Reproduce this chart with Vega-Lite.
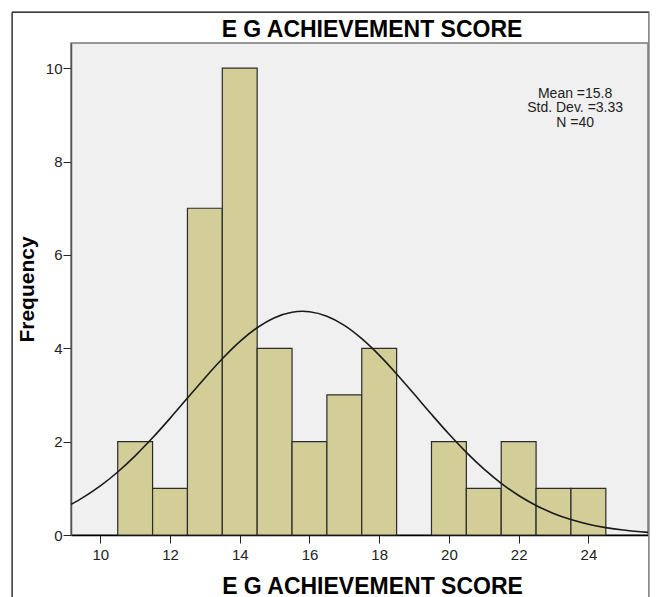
{
  "$schema": "https://vega.github.io/schema/vega-lite/v6.json",
  "width": 577,
  "height": 492,
  "autosize": {"type": "none"},
  "padding": {"left": 71, "top": 43, "right": 8, "bottom": 62},
  "background": "white",
  "config": {
    "font": "Liberation Sans",
    "view": {"fill": "#F0F0F0", "stroke": "#7a7a7a", "strokeWidth": 1.5}
  },
  "title": {
    "text": "E G ACHIEVEMENT SCORE",
    "fontSize": 23,
    "fontWeight": "bold",
    "color": "#000",
    "orient": "none",
    "anchor": "middle",
    "frame": "group",
    "baseline": "alphabetic",
    "dx": 301,
    "dy": -6
  },
  "datasets": {
    "bars": [
      {"score": 11, "freq": 2}, {"score": 12, "freq": 1}, {"score": 13, "freq": 7},
      {"score": 14, "freq": 10}, {"score": 15, "freq": 4}, {"score": 16, "freq": 2},
      {"score": 17, "freq": 3}, {"score": 18, "freq": 4}, {"score": 20, "freq": 2},
      {"score": 21, "freq": 1}, {"score": 22, "freq": 2}, {"score": 23, "freq": 1},
      {"score": 24, "freq": 1}
    ],
    "curve": [
      {"x": 9.16, "y": 0.656}, {"x": 9.5, "y": 0.8}, {"x": 10, "y": 1.051},
      {"x": 10.5, "y": 1.35}, {"x": 11, "y": 1.696}, {"x": 11.5, "y": 2.082},
      {"x": 12, "y": 2.499}, {"x": 12.5, "y": 2.933}, {"x": 13, "y": 3.365},
      {"x": 13.5, "y": 3.775}, {"x": 14, "y": 4.141}, {"x": 14.5, "y": 4.44},
      {"x": 15, "y": 4.656}, {"x": 15.5, "y": 4.773}, {"x": 15.8, "y": 4.792},
      {"x": 16, "y": 4.783}, {"x": 16.5, "y": 4.687}, {"x": 17, "y": 4.491},
      {"x": 17.5, "y": 4.206}, {"x": 18, "y": 3.853}, {"x": 18.5, "y": 3.45},
      {"x": 19, "y": 3.02}, {"x": 19.5, "y": 2.585}, {"x": 20, "y": 2.163},
      {"x": 20.5, "y": 1.77}, {"x": 21, "y": 1.416}, {"x": 21.5, "y": 1.107},
      {"x": 22, "y": 0.847}, {"x": 22.5, "y": 0.633}, {"x": 23, "y": 0.463},
      {"x": 23.5, "y": 0.331}, {"x": 24, "y": 0.231}, {"x": 24.5, "y": 0.158},
      {"x": 25, "y": 0.1055}, {"x": 25.5, "y": 0.0689}, {"x": 25.71, "y": 0.0572}
    ]
  },
  "layer": [
    {
      "data": {"name": "bars"},
      "transform": [
        {"calculate": "datum.score - 0.5", "as": "lo"},
        {"calculate": "datum.score + 0.5", "as": "hi"}
      ],
      "mark": {"type": "rect", "fill": "#D3CE97", "stroke": "#2b2b2b", "strokeWidth": 1.2},
      "encoding": {
        "x": {
          "field": "lo", "type": "quantitative",
          "scale": {"domain": [9.16, 25.71], "nice": false, "zero": false},
          "axis": {
            "values": [10, 12, 14, 16, 18, 20, 22, 24],
            "title": "E G ACHIEVEMENT SCORE",
            "titleFontSize": 23, "titleFontWeight": "bold", "titleColor": "#000",
            "titleX": 301, "titleY": 58, "titleBaseline": "alphabetic",
            "labelFontSize": 15, "labelColor": "#222", "labelPadding": 4,
            "tickSize": 8, "tickColor": "#222", "domainColor": "#000", "domainWidth": 1.5,
            "grid": false
          }
        },
        "x2": {"field": "hi"},
        "y": {
          "field": "freq", "type": "quantitative",
          "scale": {"domain": [0, 10.54], "nice": false},
          "axis": {
            "values": [0, 2, 4, 6, 8, 10],
            "title": "Frequency",
            "titleFontSize": 21, "titleFontWeight": "bold", "titleColor": "#000",
            "titlePadding": 8,
            "labelFontSize": 15, "labelColor": "#222", "labelPadding": 1,
            "tickSize": 8, "tickColor": "#222", "domainColor": "#555", "domainWidth": 1.5,
            "grid": false
          }
        },
        "y2": {"datum": 0}
      }
    },
    {
      "data": {"name": "curve"},
      "mark": {"type": "line", "color": "#1a1a1a", "strokeWidth": 1.6, "interpolate": "monotone"},
      "encoding": {
        "x": {"field": "x", "type": "quantitative"},
        "y": {"field": "y", "type": "quantitative"}
      }
    },
    {
      "data": {"values": [{}]},
      "mark": {
        "type": "text",
        "text": ["Mean =15.8", "Std. Dev. =3.33", "N =40"],
        "fontSize": 14, "lineHeight": 14.5, "align": "center", "baseline": "top", "color": "#222"
      },
      "encoding": {
        "x": {"datum": 23.62},
        "y": {"datum": 9.6}
      }
    },
    {
      "data": {"values": [{}]},
      "mark": {"type": "rule", "color": "#000", "strokeWidth": 1.2},
      "encoding": {
        "x": {"datum": 7.47}, "x2": {"datum": 25.75},
        "y": {"datum": 11.2}
      }
    },
    {
      "data": {"values": [{}]},
      "mark": {"type": "rule", "color": "#000", "strokeWidth": 1.2},
      "encoding": {
        "x": {"datum": 7.47},
        "y": {"datum": 11.2}, "y2": {"datum": -1.9}
      }
    },
    {
      "data": {"values": [{}]},
      "mark": {"type": "rule", "color": "#7a7a7a", "strokeWidth": 1.5},
      "encoding": {
        "x": {"datum": 25.735},
        "y": {"datum": 11.2}, "y2": {"datum": -1.9}
      }
    }
  ]
}
